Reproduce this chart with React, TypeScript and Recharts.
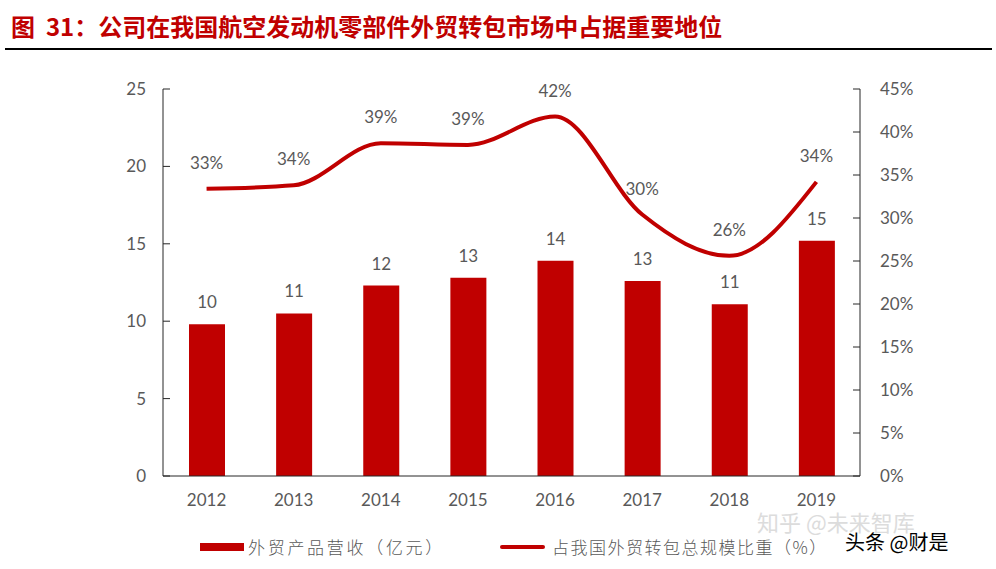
import React from 'react';
import { ComposedChart, Bar, Line, XAxis, YAxis, LabelList } from 'recharts';

const years = ['2012', '2013', '2014', '2015', '2016', '2017', '2018', '2019'];
const revenue = [9.8, 10.5, 12.3, 12.8, 13.9, 12.6, 11.1, 15.2];
const share = [33.4, 33.8, 38.7, 38.5, 41.8, 30.4, 25.6, 34.2];
const leftTicks = [0, 5, 10, 15, 20, 25];
const rightTicks = [0, 5, 10, 15, 20, 25, 30, 35, 40, 45];

const RED = '#C00000';
const GRAY = '#595959';
const AXIS = '#262626';
const NUM_FONT = 'Lato, "Liberation Sans", sans-serif';
const CJK = '"Noto Sans CJK SC", sans-serif';

const data = years.map((y, i) => ({ year: y, revenue: revenue[i], share: share[i] }));

const LeftTick = (props: any) => {
  const { x, y, payload } = props;
  return (
    <g>
      <line x1={x} y1={y} x2={x + 7} y2={y} stroke={AXIS} strokeWidth={1} />
      <text x={x - 17} y={y} dy="0.35em" textAnchor="end" fill={GRAY} fontSize={17} fontFamily={NUM_FONT}>
        {payload.value}
      </text>
    </g>
  );
};

const RightTick = (props: any) => {
  const { x, y, payload } = props;
  return (
    <g>
      <line x1={x - 7} y1={y} x2={x} y2={y} stroke={AXIS} strokeWidth={1} />
      <text x={x + 20} y={y} dy="0.35em" textAnchor="start" fill={GRAY} fontSize={17} fontFamily={NUM_FONT}>
        {payload.value}%
      </text>
    </g>
  );
};

export default function App() {
  return (
    <div style={{ position: 'absolute', left: 0, top: 0, width: 996, height: 569, background: '#fff', overflow: 'hidden' }}>
      <div
        style={{
          position: 'absolute', left: 11, top: 9, fontSize: 24, fontWeight: 'bold', color: RED,
          fontFamily: CJK, whiteSpace: 'nowrap', lineHeight: '34px',
        }}
      >
        图&nbsp;&nbsp;31：公司在我国航空发动机零部件外贸转包市场中占据重要地位
      </div>
      <div style={{ position: 'absolute', left: 5, top: 48, width: 987, height: 2, background: '#000' }} />

      <ComposedChart
        width={996}
        height={569}
        data={data}
        margin={{ top: 89, right: 76, bottom: 63, left: 103 }}
      >
        <XAxis
          dataKey="year"
          axisLine={{ stroke: AXIS }}
          tickLine={false}
          tickSize={0}
          tickMargin={18}
          height={30}
          tick={{ fill: GRAY, fontSize: 17, fontFamily: NUM_FONT }}
        />
        <YAxis
          yAxisId="left"
          width={60}
          domain={[0, 25]}
          ticks={leftTicks}
          axisLine={{ stroke: AXIS }}
          tickLine={false}
          tickSize={0}
          tickMargin={0}
          tick={<LeftTick />}
        />
        <YAxis
          yAxisId="right"
          orientation="right"
          width={60}
          domain={[0, 45]}
          ticks={rightTicks}
          axisLine={{ stroke: AXIS }}
          tickLine={false}
          tickSize={0}
          tickMargin={0}
          tick={<RightTick />}
        />
        <Bar yAxisId="left" dataKey="revenue" fill={RED} barSize={36} isAnimationActive={false}>
          <LabelList
            dataKey="revenue"
            position="top"
            offset={16}
            fill={GRAY}
            fontSize={17}
            fontFamily={NUM_FONT}
            formatter={(v: any) => Math.round(v)}
          />
        </Bar>
        <Line
          yAxisId="right"
          dataKey="share"
          type="monotone"
          stroke={RED}
          strokeWidth={4}
          dot={false}
          activeDot={false}
          isAnimationActive={false}
        >
          <LabelList
            dataKey="share"
            position="top"
            offset={20}
            fill={GRAY}
            fontSize={17}
            fontFamily={NUM_FONT}
            formatter={(v: any) => `${Math.round(v)}%`}
          />
        </Line>
      </ComposedChart>

      <div style={{ position: 'absolute', left: 200, top: 543, width: 44, height: 8, background: RED }} />
      <div
        style={{
          position: 'absolute', left: 248, top: 534, fontSize: 17, color: GRAY, letterSpacing: 2.7,
          fontFamily: CJK, fontWeight: 300, whiteSpace: 'nowrap', lineHeight: '26px',
        }}
      >
        外贸产品营收（亿元）
      </div>
      <div style={{ position: 'absolute', left: 500, top: 545, width: 45, height: 4, background: RED, borderRadius: 2 }} />
      <div
        style={{
          position: 'absolute', left: 552, top: 534, fontSize: 17, color: GRAY, letterSpacing: 1.5,
          fontFamily: CJK, fontWeight: 300, whiteSpace: 'nowrap', lineHeight: '26px',
        }}
      >
        占我国外贸转包总规模比重（%）
      </div>

      <div
        style={{
          position: 'absolute', left: 757, top: 506, fontSize: 22, color: '#dcdcdc',
          fontFamily: CJK, whiteSpace: 'nowrap', lineHeight: '30px',
        }}
      >
        知乎 @未来智库
      </div>
      <div
        style={{
          position: 'absolute', left: 845, top: 528, fontSize: 20, color: '#000',
          fontFamily: CJK, whiteSpace: 'nowrap', lineHeight: '28px',
          textShadow: '0 0 2px #fff, 0 0 2px #fff',
        }}
      >
        头条 @财是
      </div>
    </div>
  );
}
